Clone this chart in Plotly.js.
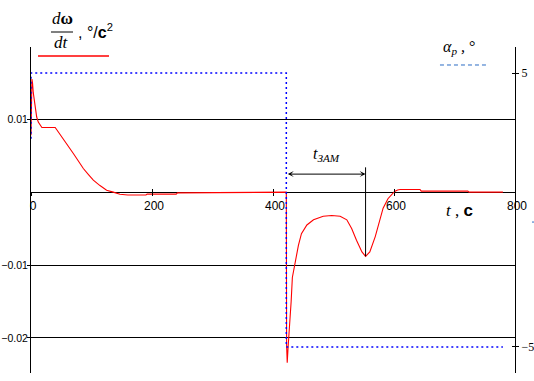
<!DOCTYPE html>
<html>
<head>
<meta charset="utf-8">
<script src="https://cdn.plot.ly/plotly-3.0.1.min.js"></script>
<style>html,body{margin:0;padding:0;background:#fff;}#chart{width:534px;height:381px;}</style>
</head>
<body>
<div id="chart"></div>
<script>
// time, s
var tRed = [0, 1.5, 2.5, 3.8, 6.6, 9.4, 12, 15, 18, 40, 45, 51, 56, 62, 66, 70, 78, 86.5, 95, 103, 114, 125, 136, 147, 160, 190, 192, 240, 242, 305, 307,
            422, 422.5, 423.5, 425, 428, 430, 432, 436, 442, 447, 456, 467, 483, 497, 511, 522, 530, 538, 547, 553, 560, 569, 577, 582, 590, 597, 601, 606, 610, 643, 645, 722, 724, 780];
// dω/dt, °/c²
var dwdt = [0.0078, 0.0155, 0.0150, 0.0136, 0.0121, 0.0103, 0.0096, 0.0092, 0.00886, 0.00886, 0.00826, 0.00767, 0.00712, 0.0063, 0.00585, 0.0053, 0.0043, 0.00324, 0.0024, 0.00164, 0.0009, 0.00027, 0, -0.0003, -0.0004, -0.0004, -0.00027, -0.00027, -0.0001, -0.0001, 0,
            0, -0.021, -0.0234, -0.0212, -0.0182, -0.015, -0.0117, -0.0097, -0.0073, -0.0057, -0.0045, -0.0038, -0.0033, -0.0032, -0.0033, -0.0038, -0.0050, -0.0066, -0.0082, -0.0088, -0.0082, -0.0061, -0.0038, -0.0022, -0.0009, -0.0002, 0.0001, 0.0003, 0.00037, 0.00037, 0.00014, 0.00014, 0, 0];
// α_p, °
var tAlpha = [0, 0, 422, 422, 780];
var alphaP = [2.6, 5, 5, -5, -5];

var xTicks = [0, 200, 400, 600, 800];
var yTicks = [-0.02, -0.01, 0.01];
var yTickText = ['\u22120.02', '\u22120.01', '0.01'];
var y2Ticks = [-5, 5];
var y2TickText = ['\u22125', '5'];

// locate the deceleration minimum after the step
var stepT = tAlpha[2];
var minIdx = -1;
for (var i = 0; i < tRed.length; i++) {
  if (tRed[i] > 480 && (minIdx < 0 || dwdt[i] < dwdt[minIdx])) minIdx = i;
}
var tMin = tRed[minIdx], vMin = dwdt[minIdx];

var sans = 'Liberation Sans, Arial, sans-serif';
var serif = 'Liberation Serif, Times New Roman, serif';

var traces = [
  {x: tRed, y: dwdt, type: 'scatter', mode: 'lines', line: {color: '#ff0000', width: 1.1}, xaxis: 'x', yaxis: 'y', hoverinfo: 'skip'},
  {x: tAlpha, y: alphaP, type: 'scatter', mode: 'lines', line: {color: '#0000ff', width: 1.5, dash: '2px,3px'}, xaxis: 'x', yaxis: 'y2', hoverinfo: 'skip'},
  {x: [0], y: [null], type: 'scatter', mode: 'lines', xaxis: 'x2', yaxis: 'y', showlegend: false, hoverinfo: 'skip'},
  {x: [0], y: [null], type: 'scatter', mode: 'lines', xaxis: 'x', yaxis: 'y3', showlegend: false, hoverinfo: 'skip'}
];

var layout = {
  width: 534, height: 381,
  margin: {l: 31, r: 19, t: 47, b: 8},
  paper_bgcolor: '#fff', plot_bgcolor: '#fff',
  showlegend: false,
  xaxis: {range: [0, 800], tickvals: xTicks, anchor: 'free', position: 0.5552,
          showline: false, showgrid: false, zeroline: false,
          ticks: 'outside', ticklen: 3, tickcolor: '#000', tickwidth: 1, ticklabelshift: 2,
          tickfont: {family: sans, size: 12, color: '#000'}},
  xaxis2: {range: [0, 800], tickvals: xTicks, overlaying: 'x', anchor: 'free', position: 0.5552,
           showline: false, showgrid: false, zeroline: false, showticklabels: false,
           ticks: 'inside', ticklen: 3, tickcolor: '#000', tickwidth: 1},
  yaxis: {range: [-0.0248, 0.0199], tickvals: yTicks, ticktext: yTickText,
          showgrid: true, gridcolor: '#000', gridwidth: 1,
          zeroline: true, zerolinecolor: '#000', zerolinewidth: 1,
          showline: true, linecolor: '#000', linewidth: 1,
          ticks: 'outside', ticklen: 3, tickcolor: '#000', ticklabelstandoff: -3,
          tickfont: {family: sans, size: 10.5, color: '#000'}},
  yaxis2: {range: [-5.95, 5.95], overlaying: 'y', side: 'right', anchor: 'x',
           tickvals: y2Ticks, ticktext: y2TickText,
           showgrid: false, zeroline: false, showline: true, linecolor: '#000', linewidth: 1,
           ticks: 'outside', ticklen: 3, tickcolor: '#000',
           tickfont: {family: serif, size: 12, color: '#000'}},
  yaxis3: {range: [-5.95, 5.95], overlaying: 'y', side: 'right', anchor: 'x',
           tickvals: y2Ticks, showticklabels: false,
           showgrid: false, zeroline: false, showline: false,
           ticks: 'inside', ticklen: 3, tickcolor: '#000'},
  shapes: [
    // fraction bar
    {type: 'line', xref: 'paper', yref: 'paper', x0: 0.0413, x1: 0.0868, y0: 1.046, y1: 1.046, line: {color: '#000', width: 1}},
    // red legend sample
    {type: 'line', xref: 'paper', yref: 'paper', x0: 0.0145, x1: 0.1612, y0: 0.9724, y1: 0.9724, line: {color: '#ff0000', width: 1.3}},
    // blue legend sample
    {type: 'line', xref: 'paper', yref: 'paper', x0: 0.845, x1: 0.940, y0: 0.9448, y1: 0.9448, line: {color: '#2b6cc4', width: 1, dash: '4px,3px'}},
    // marker at minimum
    {type: 'line', xref: 'x', yref: 'y', x0: tMin, x1: tMin, y0: vMin, y1: 0.0034, line: {color: '#000', width: 1}},
    // small blue tick at right edge
    {type: 'line', xref: 'paper', yref: 'paper', x0: 1.0351, x1: 1.0393, y0: 0.463, y1: 0.463, line: {color: '#2b6cc4', width: 1}}
  ],
  annotations: [
    {xref: 'paper', yref: 'paper', x: 0.0661, y: 1.0859, xanchor: 'center', yanchor: 'middle', showarrow: false,
     text: '<i>d</i><b>ω</b>', font: {family: serif, size: 17, color: '#000'}},
    {xref: 'paper', yref: 'paper', x: 0.0640, y: 1.0123, xanchor: 'center', yanchor: 'middle', showarrow: false,
     text: '<i>dt</i>', font: {family: serif, size: 17, color: '#000'}},
    {xref: 'paper', yref: 'paper', x: 0.093, y: 1.050, xanchor: 'left', yanchor: 'middle', showarrow: false,
     text: ', °/<b>c</b><sup>2</sup>', font: {family: sans, size: 16, color: '#000'}},
    {xref: 'paper', yref: 'paper', x: 0.847, y: 0.997, xanchor: 'left', yanchor: 'middle', showarrow: false,
     text: '<i>α</i><sub><i>p</i></sub><i> ,</i> °', font: {family: serif, size: 16, color: '#000'}},
    {xref: 'paper', yref: 'paper', x: 0.853, y: 0.497, xanchor: 'left', yanchor: 'middle', showarrow: false,
     text: '<i>t</i> , <span style="font-family:Liberation Sans, Arial, sans-serif"><b>c</b></span>', font: {family: serif, size: 17, color: '#000'}},
    {xref: 'paper', yref: 'paper', x: 0.5785, y: 0.669, xanchor: 'left', yanchor: 'middle', showarrow: false,
     text: '<i>t</i><sub><i>ЗАМ</i></sub>', font: {family: serif, size: 16, color: '#000'}},
    {xref: 'x', yref: 'y', x: tMin, y: 0.00247, axref: 'x', ayref: 'y', ax: stepT, ay: 0.00247,
     text: '', showarrow: true, arrowside: 'end+start', arrowhead: 3, arrowsize: 1, arrowwidth: 1, arrowcolor: '#000', standoff: 0, startstandoff: 0}
  ]
};

Plotly.newPlot('chart', traces, layout, {staticPlot: true, displayModeBar: false});
</script>
</body>
</html>
